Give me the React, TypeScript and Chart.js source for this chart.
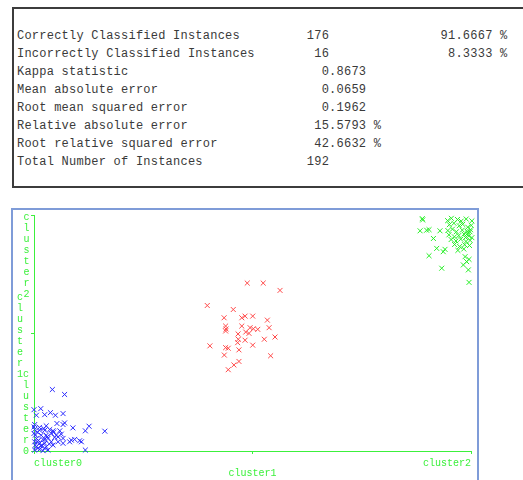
import React, { useEffect, useRef } from "react";
import { Chart, registerables } from "chart.js";

Chart.register(...registerables);

// ---------- data ----------
const clusterNames = ["cluster0", "cluster1", "cluster2"];

const statLabels = [
  "Correctly Classified Instances",
  "Incorrectly Classified Instances",
  "Kappa statistic",
  "Mean absolute error",
  "Root mean squared error",
  "Relative absolute error",
  "Root relative squared error",
  "Total Number of Instances",
];
const statValues = ["176", "16", "0.8673", "0.0659", "0.1962", "15.5793 %", "42.6632 %", "192"];
const statPercents = ["91.6667 %", "8.3333 %", "", "", "", "", "", ""];

const cluster0X = [0.084, 0.14, 0.0, 0.031, 0.011, 0.049, 0.075, 0.098, 0.133, 0.003, 0.056, 0.105, 0.133, 0.14, 0.178, 0.252, 0.235, 0.324, 0.003, 0.026, 0.049, 0.072, 0.087, 0.118, 0.006, 0.033, 0.056, 0.079, 0.102, 0.125, 0.011, 0.041, 0.064, 0.095, 0.133, 0.163, 0.186, 0.209, 0.217, 0.003, 0.026, 0.049, 0.079, 0.11, 0.133, 0.171, 0.011, 0.033, 0.056, 0.087, 0.003, 0.026, 0.049, 0.235, 0.006, 0.018, 0.041, 0.064, 0.015, 0.0, 0.0, 0.015, 0.045, 0.06, 0.02, 0.07, 0.09, 0.035, 0.11, 0.05, 0.025];
const cluster0Y = [0.521, 0.479, 0.35, 0.359, 0.303, 0.308, 0.325, 0.303, 0.317, 0.224, 0.213, 0.233, 0.224, 0.238, 0.196, 0.21, 0.171, 0.168, 0.182, 0.176, 0.176, 0.182, 0.171, 0.171, 0.134, 0.134, 0.134, 0.149, 0.134, 0.143, 0.107, 0.098, 0.107, 0.115, 0.107, 0.078, 0.098, 0.087, 0.078, 0.078, 0.065, 0.065, 0.078, 0.078, 0.065, 0.092, 0.036, 0.042, 0.036, 0.05, 0.008, 0.014, 0.023, 0.008, 0.05, 0.023, 0.003, 0.008, 0.078, 0.149, 0.204, 0.16, 0.19, 0.12, 0.09, 0.06, 0.16, 0.05, 0.12, 0.1, 0.2];

const cluster1X = [0.976, 1.049, 1.126, 0.793, 0.912, 0.87, 0.951, 0.966, 1.001, 1.068, 0.877, 0.951, 0.989, 1.004, 1.024, 1.076, 0.877, 0.969, 0.984, 1.103, 1.054, 0.935, 0.966, 0.932, 0.805, 0.877, 0.889, 0.938, 1.001, 0.871, 1.083, 0.938, 0.915, 0.889, 0.879, 0.934];
const cluster1Y = [1.423, 1.423, 1.361, 1.233, 1.199, 1.129, 1.129, 1.143, 1.143, 1.109, 1.059, 1.059, 1.045, 1.036, 1.031, 1.045, 1.017, 1.008, 0.997, 0.966, 0.947, 0.947, 0.939, 0.918, 0.891, 0.876, 0.871, 0.857, 0.897, 0.813, 0.807, 0.759, 0.729, 0.689, 1.034, 0.992];

const cluster2X = [1.777, 1.767, 1.797, 1.808, 1.858, 1.828, 1.843, 1.873, 1.881, 1.808, 1.866, 1.973, 1.98, 1.991, 1.965, 1.988, 1.991,
  1.893, 1.91, 1.938, 1.955, 1.978, 2.004, 1.901, 1.922, 1.946, 1.962, 1.985, 2.001, 1.894, 1.915, 1.933, 1.96, 1.983, 1.998,
  1.899, 1.924, 1.944, 1.968, 1.99, 2.004, 1.909, 1.931, 1.953, 1.977, 1.996, 1.925, 1.948, 1.971, 1.94, 1.967, 1.993,
  1.985, 1.995, 1.975, 1.779];
const cluster2Y = [1.969, 1.866, 1.871, 1.876, 1.866, 1.801, 1.717, 1.689, 1.709, 1.655, 1.549, 1.647, 1.605, 1.624, 1.577, 1.535, 1.429,
  1.952, 1.972, 1.962, 1.948, 1.966, 1.95, 1.918, 1.93, 1.909, 1.921, 1.897, 1.912, 1.868, 1.88, 1.858, 1.872, 1.861, 1.875,
  1.832, 1.815, 1.826, 1.838, 1.822, 1.808, 1.792, 1.78, 1.795, 1.776, 1.785, 1.75, 1.733, 1.748, 1.7, 1.712, 1.742,
  1.845, 1.858, 1.81, 1.958];

const clusterColors = ["#2a2aff", "#ff4a4a", "#26ee26"];
const axisColor = "#3cf03c";

// ---------- helpers ----------
// Weka-style decimal alignment: integer part ends right before column `dotCol`
function placeAt(line: string, value: string, dotCol: number): string {
  if (!value) return line;
  const intLen = value.split(/[.\s]/)[0].length;
  const start = dotCol - intLen;
  let s = line;
  while (s.length < start) s += " ";
  return s + value;
}

const statLines = statLabels.map((lab, i) => {
  let l = placeAt(lab, statValues[i], 42);
  l = placeAt(l, statPercents[i], 59);
  return l;
});

const labelPlugin = {
  id: "wekaClusterLabels",
  afterDraw(chart: any) {
    const { ctx, chartArea, scales } = chart;
    const xs = scales.x;
    const ys = scales.y;
    const last = clusterNames.length - 1;
    ctx.save();
    ctx.fillStyle = axisColor;
    ctx.font = '10px "Liberation Mono", monospace';
    ctx.textBaseline = "middle";
    clusterNames.forEach((name: string, i: number) => {
      const px = xs.getPixelForValue(i);
      if (i === 0) {
        ctx.textAlign = "left";
        ctx.fillText(name, px, chartArea.bottom + 12);
      } else if (i === last) {
        ctx.textAlign = "right";
        ctx.fillText(name, px, chartArea.bottom + 12);
      } else {
        ctx.textAlign = "center";
        ctx.fillText(name, px, chartArea.bottom + 22);
      }
    });
    ctx.textAlign = "center";
    const step = 11;
    clusterNames.forEach((name: string, i: number) => {
      const py = ys.getPixelForValue(i);
      const chars = name.split("");
      const n = chars.length;
      let startY: number;
      let cx: number;
      if (i === 0) {
        startY = py - (n - 1) * step;
        cx = chartArea.left - 8;
      } else if (i === last) {
        startY = py + 2;
        cx = chartArea.left - 7.5;
      } else {
        startY = py - ((n - 1) * step) / 2 + 3;
        cx = chartArea.left - 14;
      }
      chars.forEach((c, k) => ctx.fillText(c, cx, startY + k * step));
    });
    ctx.restore();
  },
};

export default function App() {
  const ref = useRef<HTMLCanvasElement>(null);

  useEffect(() => {
    const xsArr = [cluster0X, cluster1X, cluster2X];
    const ysArr = [cluster0Y, cluster1Y, cluster2Y];
    const chart = new Chart(ref.current as HTMLCanvasElement, {
      type: "scatter",
      data: {
        datasets: clusterNames.map((name, ci) => ({
          label: name,
          data: xsArr[ci].map((x, i) => ({ x, y: ysArr[ci][i] })),
          pointStyle: "crossRot",
          pointRadius: 3.5,
          pointBorderWidth: 1,
          borderColor: clusterColors[ci],
          backgroundColor: clusterColors[ci],
          clip: false as any,
        })),
      },
      options: {
        animation: false,
        responsive: false,
        events: [],
        layout: { padding: { top: 3, right: 6, left: 0, bottom: 0 } },
        plugins: { legend: { display: false }, tooltip: { enabled: false } },
        scales: {
          x: {
            type: "linear",
            min: 0,
            max: 2,
            ticks: { display: false, stepSize: 1 },
            grid: { drawOnChartArea: false, drawTicks: true, tickLength: 3, color: axisColor },
            border: { color: axisColor, width: 1 },
            afterFit: (s: any) => {
              s.height = 29;
            },
          },
          y: {
            type: "linear",
            min: 0,
            max: 2,
            ticks: { display: false, stepSize: 1 },
            grid: { drawOnChartArea: false, drawTicks: true, tickLength: 3, color: axisColor },
            border: { color: axisColor, width: 1 },
            afterFit: (s: any) => {
              s.width = 21;
            },
          },
        },
      } as any,
      plugins: [labelPlugin],
    });
    return () => chart.destroy();
  }, []);

  return (
    <div
      style={{
        position: "absolute",
        left: 0,
        top: 0,
        width: 523,
        height: 480,
        overflow: "hidden",
        background: "#fff",
      }}
    >
      <div
        style={{
          position: "absolute",
          left: 12,
          top: 7,
          width: 511,
          height: 181,
          boxSizing: "border-box",
          borderTop: "2px solid #3c3c3c",
          borderLeft: "2px solid #3c3c3c",
          borderBottom: "2px solid #3c3c3c",
          borderRight: "0px solid transparent",
          background: "#fff",
        }}
      >
        <pre
          style={{
            margin: 0,
            position: "absolute",
            left: 3,
            top: 18,
            fontFamily: '"Liberation Mono", monospace',
            fontSize: 12,
            letterSpacing: 0.23,
            lineHeight: "18px",
            color: "#3a3a3a",
            whiteSpace: "pre",
          }}
        >
          {statLines.join("\n")}
        </pre>
      </div>
      <div
        style={{
          position: "absolute",
          left: 11,
          top: 208,
          width: 468,
          height: 290,
          boxSizing: "border-box",
          border: "2px solid #7f9cd8",
          background: "#fff",
        }}
      />
      <canvas
        ref={ref}
        width={464}
        height={270}
        style={{ position: "absolute", left: 13, top: 210, width: 464, height: 270 }}
      />
    </div>
  );
}
